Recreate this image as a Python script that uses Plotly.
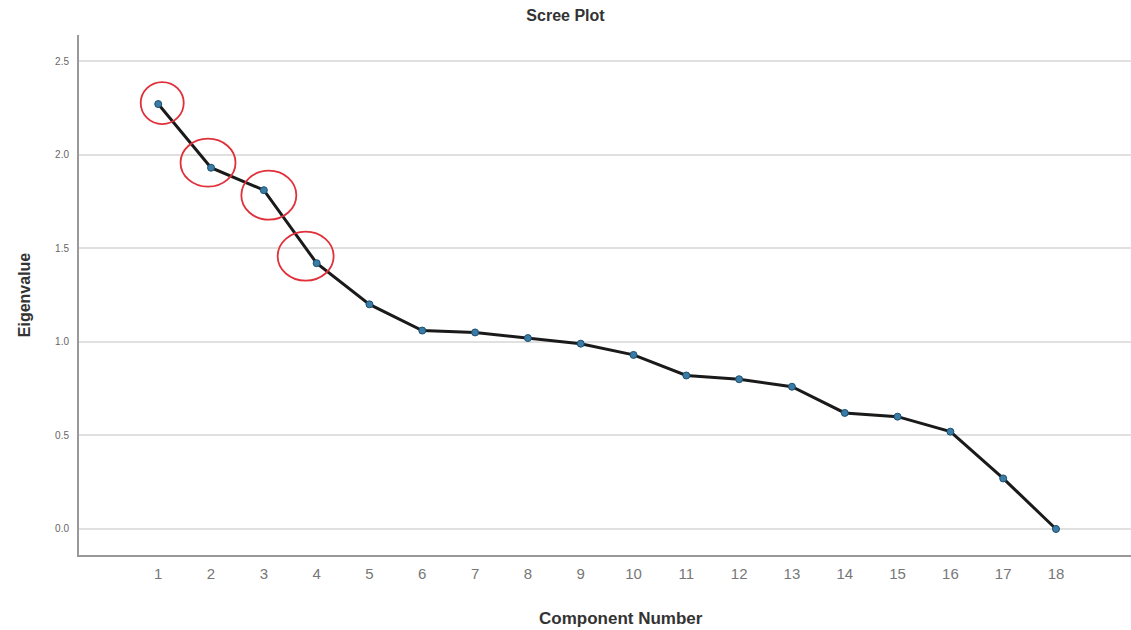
import plotly.graph_objects as go

# Eigenvalues of the extracted components
components = list(range(1, 19))
eigenvalues = [2.27, 1.93, 1.81, 1.42, 1.20, 1.06, 1.05, 1.02, 0.99,
               0.93, 0.82, 0.80, 0.76, 0.62, 0.60, 0.52, 0.27, 0.00]
highlighted = [1, 2, 3, 4]

y_ticks = [0.0, 0.5, 1.0, 1.5, 2.0, 2.5]

fig = go.Figure()

fig.add_trace(go.Scatter(
    x=components, y=eigenvalues, mode="lines+markers",
    line=dict(color="#1a1a1a", width=3),
    marker=dict(size=7, color="#3a7ca5", line=dict(color="#1d4f6e", width=1)),
    showlegend=False, hoverinfo="x+y",
))

# Red rings drawn around the retained components (pixel-sized, anchored to each point)
ring_style = {1: (4, 1, 43, 42), 2: (-3, 5, 55, 48), 3: (5, -5, 55, 49), 4: (-11, 7, 56, 49)}
for c in highlighted:
    dx, dy, w, h = ring_style[c]
    fig.add_shape(
        type="circle", xref="x", yref="y",
        xsizemode="pixel", ysizemode="pixel",
        xanchor=c, yanchor=eigenvalues[c - 1],
        x0=dx - w / 2, x1=dx + w / 2, y0=dy - h / 2, y1=dy + h / 2,
        line=dict(color="#e0303a", width=1.8),
    )

fig.update_layout(
    width=1131, height=630,
    margin=dict(l=79, r=0, t=35, b=75),
    paper_bgcolor="white", plot_bgcolor="white",
    font=dict(family="Arial, Liberation Sans, sans-serif", color="#333"),
    title=dict(text="<b>Scree Plot</b>", x=0.5, xanchor="center", y=0.976, yanchor="middle",
               font=dict(size=16, color="#333")),
    annotations=[dict(
        text="<b>Component Number</b>", xref="paper", yref="paper",
        x=0.515, y=-0.122, xanchor="center", yanchor="middle", showarrow=False,
        font=dict(size=17, color="#333"),
    )],
)

fig.update_xaxes(
    range=[-0.5, 19.42], tickmode="array", tickvals=components,
    ticktext=[str(c) for c in components],
    tickfont=dict(size=15, color="#777"), ticks="outside", ticklen=4, tickcolor="white",
    showgrid=False, zeroline=False,
    showline=True, linecolor="#999", linewidth=2,
)

fig.update_yaxes(
    range=[-0.139, 2.639], tickmode="array", tickvals=y_ticks, tickformat=".1f",
    tickfont=dict(size=10, color="#666"), ticks="outside", ticklen=6, tickcolor="white",
    showgrid=True, gridcolor="#e0e0e0", gridwidth=2, zeroline=False,
    showline=True, linecolor="#999", linewidth=2,
    title=dict(text="<b>Eigenvalue</b>", font=dict(size=16, color="#333"), standoff=20),
)

fig.write_html("out.html")
